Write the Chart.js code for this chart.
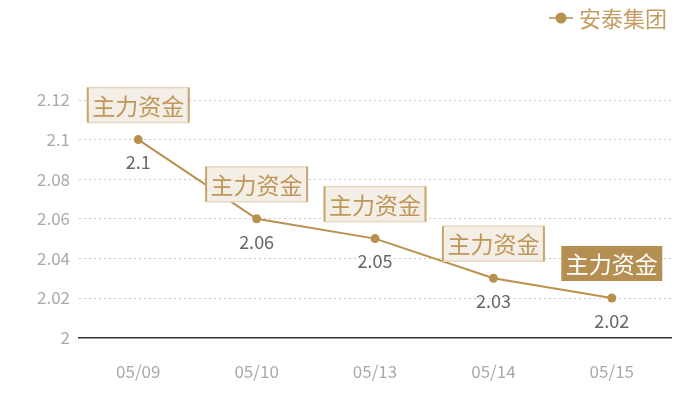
<!DOCTYPE html>
<html>
<head>
<meta charset="utf-8">
<script src="https://cdn.jsdelivr.net/npm/chart.js@4/dist/chart.umd.min.js"></script>
<style>
  body { margin: 0; background: #fff; }
  #wrap { width: 700px; height: 400px; }
</style>
</head>
<body>
<div id="wrap"><canvas id="chart"></canvas></div>
<script>
// dados do gráfico
const categorias = ['05/09', '05/10', '05/13', '05/14', '05/15'];
const valores = [2.1, 2.06, 2.05, 2.03, 2.02];
const serieNome = '安泰集团';
const rotulo = '主力资金';

const fonte = '"Noto Sans CJK SC", "Noto Sans", sans-serif';
const dourado = '#b8914f';

// caixas "主力资金" acima dos pontos + valores abaixo + legenda
const rotulosPlugin = {
    id: 'rotulos',
    afterDatasetsDraw(chart) {
        const ctx = chart.ctx;
        const meta = chart.getDatasetMeta(0);
        ctx.save();
        meta.data.forEach((pt, i) => {
            const ultimo = i === meta.data.length - 1;
            const w = 101, h = 35;
            const x0 = pt.x - w / 2;
            const y0 = pt.y - 17 - h;
            ctx.fillStyle = ultimo ? '#b58f52' : '#f3eee6';
            ctx.fillRect(x0, y0, w, h);
            if (!ultimo) {
                ctx.strokeStyle = '#e6d8c0';
                ctx.lineWidth = 1.5;
                ctx.strokeRect(x0, y0, w, h);
                ctx.strokeStyle = '#c9a56c';
                ctx.lineWidth = 2;
                ctx.beginPath();
                ctx.moveTo(x0, y0); ctx.lineTo(x0, y0 + h);
                ctx.moveTo(x0 + w, y0); ctx.lineTo(x0 + w, y0 + h);
                ctx.stroke();
            }
            ctx.font = '23px ' + fonte;
            ctx.textAlign = 'center';
            ctx.textBaseline = 'middle';
            ctx.fillStyle = ultimo ? '#ffffff' : '#bf9658';
            ctx.fillText(rotulo, pt.x, y0 + h / 2 + 1);

            ctx.font = '18px ' + fonte;
            ctx.fillStyle = '#666666';
            ctx.fillText(String(valores[i]), pt.x, pt.y + 23);
        });

        // legenda
        const ly = 18;
        ctx.strokeStyle = dourado;
        ctx.lineWidth = 1.5;
        ctx.beginPath();
        ctx.moveTo(549, ly); ctx.lineTo(573, ly);
        ctx.stroke();
        ctx.fillStyle = dourado;
        ctx.beginPath();
        ctx.arc(561, ly, 5.5, 0, Math.PI * 2);
        ctx.fill();
        ctx.font = '22px ' + fonte;
        ctx.textAlign = 'left';
        ctx.fillStyle = '#c39d62';
        ctx.fillText(serieNome, 579, ly + 1);
        ctx.restore();
    }
};

new Chart(document.getElementById('chart'), {
    type: 'line',
    data: {
        labels: categorias,
        datasets: [{
            label: serieNome,
            data: valores,
            borderColor: dourado,
            backgroundColor: dourado,
            borderWidth: 2,
            pointRadius: 4.5,
            pointHoverRadius: 4.5,
            pointBackgroundColor: dourado,
            pointBorderWidth: 0,
            tension: 0,
        }],
    },
    options: {
        responsive: true,
        maintainAspectRatio: false,
        animation: false,
        layout: { padding: { top: 100, right: 29, left: 28, bottom: -6 } },
        plugins: {
            legend: { display: false },
            tooltip: { enabled: false },
        },
        scales: {
            x: {
                offset: true,
                grid: { display: false, drawTicks: false },
                border: { display: true, color: '#333333', width: 1.5 },
                ticks: { color: '#aaaaaa', font: { family: fonte, size: 17 }, padding: 24 },
            },
            y: {
                min: 2,
                max: 2.12,
                grid: { color: '#c8c8c8', drawTicks: false, tickLength: 0 },
                border: { display: false, dash: [2, 3] },
                ticks: {
                    stepSize: 0.02,
                    color: '#aaaaaa',
                    font: { family: fonte, size: 17 },
                    padding: 9,
                    callback: v => String(parseFloat(v.toFixed(2))),
                },
            },
        },
    },
    plugins: [rotulosPlugin],
});
</script>
</body>
</html>
